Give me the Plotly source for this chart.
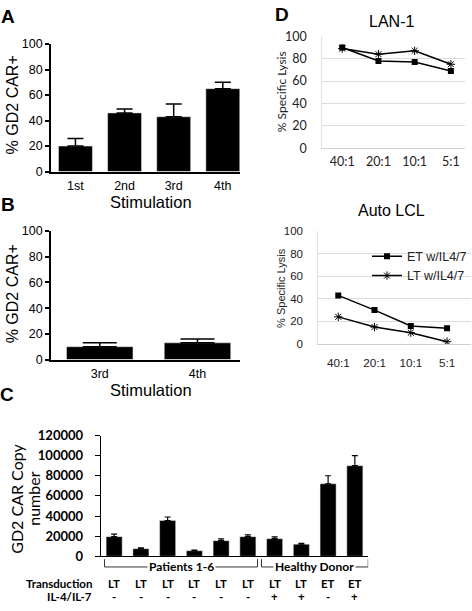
import plotly.graph_objects as go

# ---------------- data ----------------
stim_a = ["1st", "2nd", "3rd", "4th"]
gd2_a = [20, 46, 43, 65]
gd2_a_err = [6, 3, 10, 5]

stim_b = ["3rd", "4th"]
gd2_b = [10, 13]
gd2_b_err = [3, 3]

c_groups = ["p1", "p2", "p3", "p4", "p5", "p6", "h1", "h2", "h3", "h4"]
copy_num = [19500, 7500, 35500, 5500, 15500, 19500, 17500, 12000, 72000, 90000]
copy_err = [2500, 800, 3500, 600, 1800, 1800, 1800, 900, 8000, 10000]
transduction = ["LT", "LT", "LT", "LT", "LT", "LT", "LT", "LT", "ET", "ET"]
il47 = ["-", "-", "-", "-", "-", "-", "+", "+", "-", "+"]

ratios = ["40:1", "20:1", "10:1", "5:1"]
lan1_et = [90, 78, 77, 69]
lan1_lt = [89, 84, 87, 75]
lcl_et = [43, 30, 16, 14]
lcl_lt = [24, 15, 10, 2]

W, H = 472, 611
def fx(p):
    return p / W
def fy(p):
    return 1 - p / H

ARIAL = "Liberation Sans, Arial, sans-serif"
CAL = "Lato, Carlito, Calibri, sans-serif"

fig = go.Figure()

# Panel A
fig.add_trace(go.Bar(x=stim_a, y=gd2_a, marker_color="black", width=0.69,
                     error_y=dict(type="data", symmetric=False, array=gd2_a_err,
                                  arrayminus=[0]*4, color="black", thickness=1.5, width=8),
                     xaxis="x", yaxis="y", showlegend=False))
# Panel B
fig.add_trace(go.Bar(x=stim_b, y=gd2_b, marker_color="black", width=0.68,
                     error_y=dict(type="data", symmetric=False, array=gd2_b_err,
                                  arrayminus=[0]*2, color="black", thickness=1.5, width=17),
                     xaxis="x2", yaxis="y2", showlegend=False))
# Panel C
fig.add_trace(go.Bar(x=c_groups, y=copy_num, marker_color="black", width=0.6,
                     error_y=dict(type="data", symmetric=False, array=copy_err,
                                  arrayminus=[0]*10, color="black", thickness=1.2, width=3),
                     xaxis="x3", yaxis="y3", showlegend=False))
# Panel D top
fig.add_trace(go.Scatter(x=ratios, y=lan1_et, mode="lines+markers", name="ET w/IL4/7",
                         line=dict(color="black", width=1.5),
                         marker=dict(symbol="square", size=6, color="black"),
                         xaxis="x4", yaxis="y4", showlegend=False))
fig.add_trace(go.Scatter(x=ratios, y=lan1_lt, mode="lines+markers", name="LT w/IL4/7",
                         line=dict(color="black", width=1.5),
                         marker=dict(symbol="asterisk-open", size=7, line=dict(color="#888", width=1)),
                         xaxis="x4", yaxis="y4", showlegend=False))
# Panel D bottom
fig.add_trace(go.Scatter(x=ratios, y=lcl_et, mode="lines+markers", name="ET w/IL4/7",
                         line=dict(color="black", width=1.5),
                         marker=dict(symbol="square", size=6, color="black"),
                         xaxis="x5", yaxis="y5"))
fig.add_trace(go.Scatter(x=ratios, y=lcl_lt, mode="lines+markers", name="LT w/IL4/7",
                         line=dict(color="black", width=1.5),
                         marker=dict(symbol="asterisk-open", size=7, line=dict(color="#888", width=1)),
                         xaxis="x5", yaxis="y5"))

bar_x = dict(showline=True, linecolor="black", linewidth=1.5, ticks="", showgrid=False,
             tickfont=dict(family=ARIAL, size=12.5, color="black"), zeroline=False)
bar_y = dict(showline=True, linecolor="black", linewidth=1.5, ticks="outside", ticklen=4,
             tickwidth=1.5, tickcolor="black", showgrid=False, zeroline=False,
             tickfont=dict(family=ARIAL, size=12.5, color="black"))

line_x = dict(showline=True, linecolor="#d0d0d0", linewidth=1, ticks="", showgrid=False,
              zeroline=False)
line_y = dict(showline=True, linecolor="#e0e0e0", linewidth=1, ticks="", showgrid=True,
              gridcolor="#dcdcdc", gridwidth=1, zeroline=False, range=[0, 100],
              tickvals=[0, 20, 40, 60, 80, 100], ticklabelstandoff=12)

fig.update_layout(
    width=W, height=H, margin=dict(l=0, r=0, t=0, b=0),
    paper_bgcolor="white", plot_bgcolor="rgba(0,0,0,0)",
    xaxis=dict(bar_x, domain=[fx(51), fx(241)], anchor="y", range=[-0.5, 3.36],
               ticklabelstandoff=2),
    yaxis=dict(bar_y, domain=[fy(168), fy(37)], anchor="x", range=[0, 100],
               tickvals=[0, 20, 40, 60, 80, 100]),
    xaxis2=dict(bar_x, domain=[fx(51), fx(241)], anchor="y2", range=[-0.5, 1.44],
                ticklabelstandoff=2),
    yaxis2=dict(bar_y, domain=[fy(361), fy(229)], anchor="x2", range=[0, 100],
                tickvals=[0, 20, 40, 60, 80, 100]),
    xaxis3=dict(showline=True, linecolor="black", linewidth=1.2, ticks="", showgrid=False,
                showticklabels=False, zeroline=False,
                domain=[fx(101), fx(369)], anchor="y3", range=[-0.5, 9.5]),
    yaxis3=dict(showline=True, linecolor="black", linewidth=1.2, ticks="outside", ticklen=5,
                tickcolor="black", showgrid=False, zeroline=False,
                tickfont=dict(family=CAL, size=13, color="black", weight="bold"),
                domain=[fy(563), fy(439)], anchor="x3", range=[0, 120000],
                tickvals=[0, 20000, 40000, 60000, 80000, 100000, 120000], tickformat="d",
                ticklabelstandoff=9),
    xaxis4=dict(line_x, domain=[fx(323), fx(466)], anchor="y4", range=[-0.55, 3.39],
                tickfont=dict(family=CAL, size=12.5, color="#222"), ticklabelstandoff=2),
    yaxis4=dict(line_y, domain=[fy(144), fy(29)], anchor="x4",
                tickfont=dict(family=CAL, size=12.5, color="#222")),
    xaxis5=dict(line_x, domain=[fx(319), fx(472)], anchor="y5", range=[-0.55, 3.66],
                tickfont=dict(family=ARIAL, size=11.7, color="#222"), ticklabelstandoff=8),
    yaxis5=dict(line_y, domain=[fy(345), fy(229)], anchor="x5",
                tickfont=dict(family=ARIAL, size=11.5, color="#222")),
    legend=dict(x=fx(368), y=fy(240), xanchor="left", yanchor="top",
                font=dict(family=ARIAL, size=12.5, color="#222"),
                bgcolor="rgba(0,0,0,0)", itemwidth=30),
)

ann = []
def A(text, x, y, size, family=ARIAL, angle=0, xanchor="center", xref="paper", weight="normal",
      bg=None, color="black"):
    d = dict(text=text, x=x, y=y, xref=xref, yref="paper", showarrow=False,
             font=dict(family=family, size=size, color=color, weight=weight),
             textangle=angle, xanchor=xanchor, yanchor="middle")
    if bg:
        d["bgcolor"] = bg
        d["borderpad"] = 1
    ann.append(d)

# panel letters
A("A", fx(8), fy(9), 19, weight="bold")
A("B", fx(8), fy(202), 19, weight="bold")
A("C", fx(7), fy(397), 19, weight="bold")
A("D", fx(283), fy(7), 19, weight="bold")

# axis titles A/B
A("% GD2 CAR+", fx(12), fy(99), 16, angle=-90)
A("Stimulation", fx(151), fy(199), 16.5)
A("% GD2 CAR+", fx(12), fy(293), 16, angle=-90)
A("Stimulation", fx(151), fy(392), 16.5)

# Panel C titles
A("GD2 CAR Copy", fx(17), fy(504), 16, family=CAL, angle=-90)
A("number", fx(34), fy(504), 16, family=CAL, angle=-90)
A("Transduction", fx(94), fy(591), 11.5, family=CAL, xanchor="right", weight="bold")
A("IL-4/IL-7", fx(94), fy(604), 11.5, family=CAL, xanchor="right", weight="bold")
for i, (t, s) in enumerate(zip(transduction, il47)):
    A(t, c_groups[i], fy(591), 11.5, family=CAL, xref="x3", weight="bold")
    A(s, c_groups[i], fy(604), 11.5, family=CAL, xref="x3", weight="bold")
A("Patients 1-6", 2.5, fy(574), 12, family=CAL, xref="x3", weight="bold", bg="white")
A("Healthy Donor", 7.5, fy(574), 12, family=CAL, xref="x3", weight="bold", bg="white")

# Panel D titles
A("LAN-1", fx(392), fy(14), 16)
A("% Specific Lysis", fx(282), fy(86), 12, family=CAL, angle=-90, color="#222")
A("Auto LCL", fx(392), fy(208), 16)
A("% Specific Lysis", fx(282), fy(287), 11, angle=-90, color="#222")

fig.update_layout(annotations=ann)

# brackets under panel C
shapes = []
for x0, x1 in [(-0.36, 5.36), (5.51, 9.5)]:
    shapes.append(dict(type="line", xref="x3", yref="paper", x0=x0, x1=x1,
                       y0=fy(574), y1=fy(574), line=dict(color="#333", width=1)))
    for xe in (x0, x1):
        shapes.append(dict(type="line", xref="x3", yref="paper", x0=xe, x1=xe,
                           y0=fy(574), y1=fy(566), line=dict(color="#333", width=1)))
fig.update_layout(shapes=shapes)

fig.write_html("out.html", config={"displayModeBar": False},
               post_script="document.body.style.margin='0';document.body.style.overflow='hidden';")
